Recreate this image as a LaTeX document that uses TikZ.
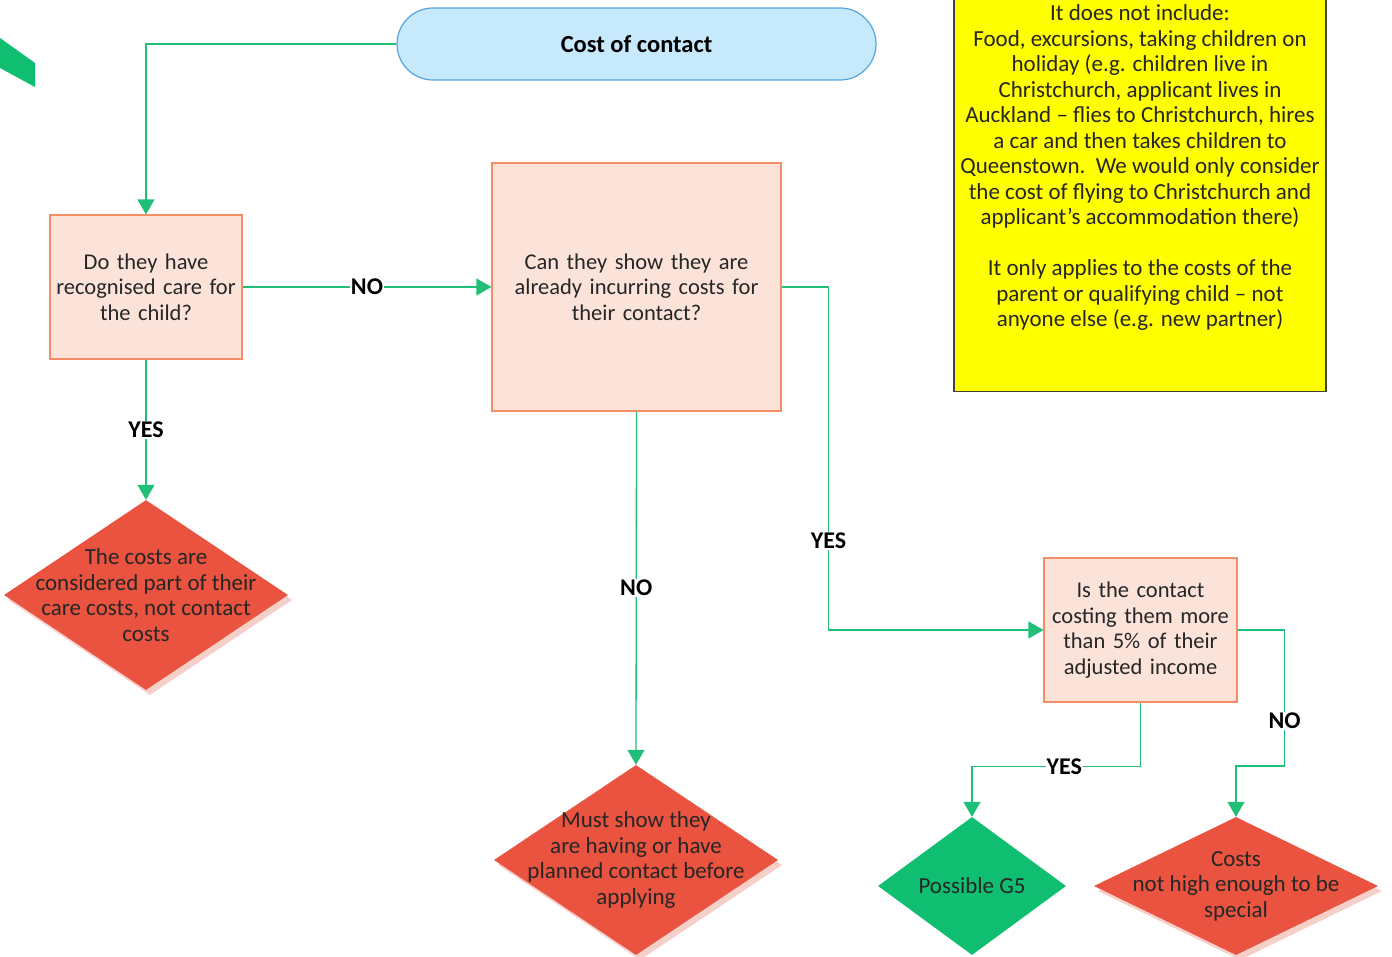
\documentclass[tikz,border=0pt]{standalone}
\usepackage{fontspec}
\setmainfont{Carlito}
\usetikzlibrary{arrows.meta,shapes.geometric,shadows,calc}

\definecolor{flowgreen}{HTML}{1FBF78}
\definecolor{endgreen}{HTML}{10BE72}
\definecolor{endred}{HTML}{E9533F}
\definecolor{shadowpink}{HTML}{F7CFC9}
\definecolor{boxfill}{HTML}{FBE3DA}
\definecolor{boxline}{HTML}{F58D65}
\definecolor{startfill}{HTML}{C6E9FB}
\definecolor{startline}{HTML}{55A5E0}
\definecolor{notefill}{HTML}{FFFF00}
\definecolor{noteline}{HTML}{404040}

\tikzset{
  txt/.style={font=\fontsize{23}{25.5}\selectfont, text=black!85},
  boxtxt/.style={font=\fontsize{22.5}{25.5}\selectfont, text=black!85},
  startbox/.style={rectangle, rounded corners=36pt, draw=startline, fill=startfill, line width=1.2pt,
    minimum width=479pt, minimum height=72pt, text=black, font=\fontsize{24.5}{25.5}\selectfont\bfseries},
  qbox/.style={boxtxt, rectangle, draw=boxline, fill=boxfill, line width=1.2pt, inner sep=0pt, align=center},
  enddiam/.style={diamond, draw=none, inner sep=0pt},
  reddiam/.style={enddiam, fill=endred,
    general shadow={fill=shadowpink, shadow xshift=4pt, shadow yshift=-5pt}},
  greendiam/.style={enddiam, fill=endgreen},
  dtext/.style={txt, align=center, inner sep=0pt},
  flow/.style={draw=flowgreen, line width=1.3pt, -{Triangle[length=15pt,width=17pt]}},
  lbl/.style={font=\fontsize{24}{24}\selectfont\bfseries, fill=white, inner sep=1pt, text=black}
}

\begin{document}
\begin{tikzpicture}[x=1pt,y=-1pt]
\useasboundingbox (0,0) rectangle (1392,957);
\clip (0,0) rectangle (1392,957);

% corner mark
\fill[endgreen] (0,38) -- (35,63) -- (35,87) -- (0,68) -- cycle;

% start
\node[startbox] (start) at (636.5,44) {Cost of contact};

% questions
\node[qbox, minimum width=192pt, minimum height=144pt, text width=190pt] (q1) at (146,287)
  {Do they have\\recognised care for\\the child?};
\node[qbox, minimum width=289pt, minimum height=248pt, text width=285pt] (q2) at (636.5,287)
  {Can they show they are\\already incurring costs for\\their contact?};
\node[qbox, minimum width=193pt, minimum height=144pt, text width=190pt] (q3) at (1140.5,630)
  {Is the contact\\costing them more\\than 5\% of their\\adjusted income};

% note
\node[rectangle, draw=noteline, fill=notefill, line width=1.2pt, minimum width=372pt, minimum height=410pt,
  anchor=south] (note) at (1140,392) {};
\node[txt, align=center, anchor=north, inner sep=0pt] (notetext) at (1140,4.5) {It does not include:\\
Food, excursions, taking children on\\
holiday (e.g. children live in\\
Christchurch, applicant lives in\\
Auckland -- flies to Christchurch, hires\\
a car and then takes children to\\
Queenstown.\ \ We would only consider\\
the cost of flying to Christchurch and\\
applicant’s accommodation there)\\[25.5pt]
It only applies to the costs of the\\
parent or qualifying child -- not\\
anyone else (e.g. new partner)};

% outcomes
\node[reddiam, minimum width=284pt, minimum height=190pt] (d1) at (146,595) {};
\node[dtext] (d1t) at (d1.center) {The costs are\\considered part of their\\care costs, not contact\\costs};
\node[reddiam, minimum width=284pt, minimum height=190pt] (d2) at (636,860) {};
\node[dtext] (d2t) at (d2.center) {Must show they\\are having or have\\planned contact before\\applying};
\node[greendiam, minimum width=188pt, minimum height=138pt] (d3) at (972,886) {};
\node[dtext] (d3t) at (d3.center) {Possible G5};
\node[reddiam, minimum width=284pt, minimum height=138pt] (d4) at (1236,886) {};
\node[dtext] (d4t) at (d4.center) {Costs\\not high enough to be\\special};

% connectors
\draw[flow] (start.west) -| (q1.north);
\draw[flow] (q1.east) -- node[lbl]{NO} (q2.west);
\draw[flow] (q1.south) -- node[lbl]{YES} (d1.north);
\draw[flow] (q2.south) -- node[lbl]{NO} (d2.north);
\draw[flow] (q2.east) -- ++(47,0) -- node[lbl,pos=0.74]{YES} ++(0,343) -- (q3.west);
\draw[flow] (q3.south) -- ++(0,64) -| node[lbl,pos=0.226]{YES} (d3.north);
\draw[flow] (q3.east) -- ++(47,0) -- node[lbl,pos=0.67]{NO} ++(0,136) -| (d4.north);
\end{tikzpicture}
\end{document}
